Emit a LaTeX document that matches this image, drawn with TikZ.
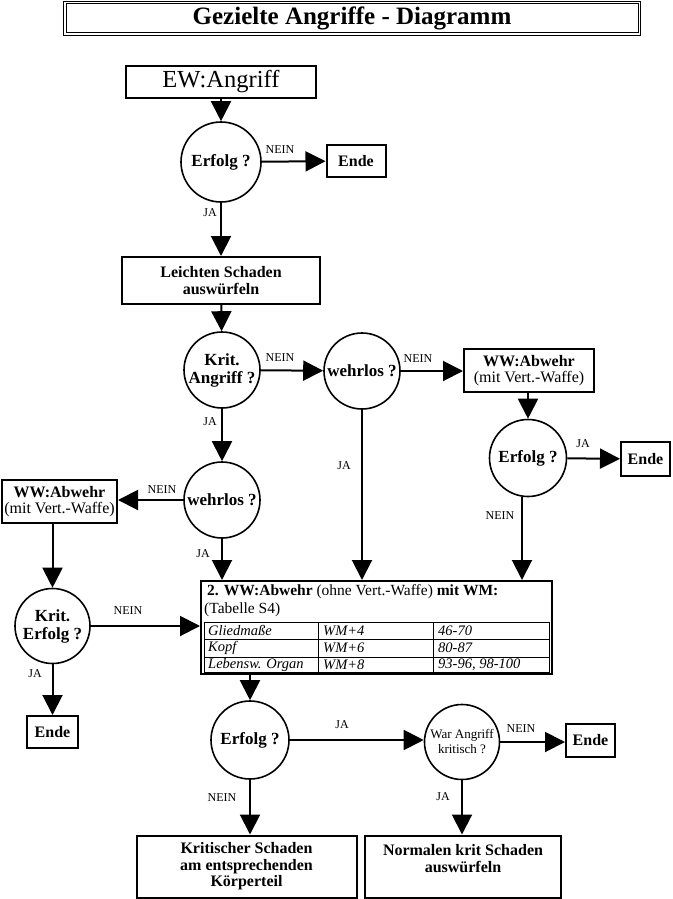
\documentclass[tikz,border=0pt]{standalone}
\usepackage{fontspec}
\setmainfont{Liberation Serif}
\usetikzlibrary{arrows.meta}
\begin{document}
\begin{tikzpicture}[x=1pt,y=-1pt,
  box/.style={draw, line width=2pt, inner sep=0pt, align=center,
    font=\bfseries\fontsize{16}{16.5}\selectfont},
  dec/.style={draw, circle, line width=1.6pt, inner sep=0pt, align=center,
    font=\bfseries\fontsize{17}{18}\selectfont},
  arr/.style={line width=2pt, -{Triangle[length=20pt,width=20pt]}},
  lbl/.style={font=\fontsize{12}{13}\selectfont, inner sep=0pt},
  cell/.style={anchor=west, inner sep=0pt, font=\itshape\fontsize{14.5}{15}\selectfont}]
\useasboundingbox (0,0) rectangle (672,899);

% title
\node[minimum width=576pt, minimum height=33pt, inner sep=0pt,
  font=\bfseries\fontsize{25}{26}\selectfont] (title) at (352,18.5) {Gezielte Angriffe - Diagramm};
\draw[line width=1pt] (title.north west) rectangle (title.south east);
\draw[line width=1pt] ([shift={(2.2pt,-2.2pt)}]title.north west) rectangle ([shift={(-2.2pt,2.2pt)}]title.south east);

% main column
\node[box, minimum width=190pt, minimum height=32pt, font=\fontsize{24.5}{26}\selectfont] (ew) at (221,82) {EW:Angriff};
\node[dec, minimum size=80pt] (erf1) at (221,162) {Erfolg ?};
\node[box, minimum width=59pt, minimum height=32pt] (ende1) at (356,161) {Ende};
\node[box, minimum width=198pt, minimum height=47pt] (leicht) at (221,280.5) {Leichten Schaden\\auswürfeln};
\node[dec, minimum size=76pt] (krit) at (222,370) {Krit.\\Angriff ?};
\node[dec, minimum size=76pt] (wehr1) at (362,371) {wehrlos ?};
\node[box, minimum width=130pt, minimum height=43pt] (wwr) at (529,370.5)
  {WW:Abwehr\\\mdseries(mit Vert.-Waffe)};
\node[dec, minimum size=77pt] (erf2) at (528,458) {Erfolg ?};
\node[box, minimum width=49pt, minimum height=34pt] (ende2) at (645.5,459) {Ende};

\node[dec, minimum size=76pt] (wehr2) at (222,500) {wehrlos ?};
\node[box, minimum width=115pt, minimum height=43pt] (wwl) at (59.5,501.5)
  {WW:Abwehr\\\mdseries(mit Vert.-Waffe)};
\node[dec, minimum size=75pt] (kerf) at (52.5,626) {Krit.\\Erfolg ?};
\node[box, minimum width=51pt, minimum height=32pt] (ende3) at (52.5,732) {Ende};

% table
\node[draw, line width=2pt, minimum width=351pt, minimum height=93pt, inner sep=0pt] (tab) at (376.5,627.5) {};
\draw[line width=0.8pt] (204,622) rectangle (549,672);
\draw[line width=0.8pt] (204,639) -- (549,639) (204,657) -- (549,657)
  (318,622) -- (318,672) (433,622) -- (433,672);
\node[anchor=west, inner sep=0pt, font=\fontsize{15.5}{16}\selectfont] (hdr) at (207,592)
  {\textbf{2. WW:Abwehr} (ohne Vert.-Waffe) \textbf{mit WM:}};
\node[anchor=west, inner sep=0pt, font=\fontsize{15.5}{16}\selectfont] (tabs) at (204,610) {(Tabelle S4)};
\node[cell] (c11) at (208,630.5) {Gliedmaße};
\node[cell] (c12) at (323,630.5) {WM+4};
\node[cell] (c13) at (438,630.5) {46-70};
\node[cell] (c21) at (208,648) {Kopf};
\node[cell] (c22) at (323,648) {WM+6};
\node[cell] (c23) at (438,648) {80-87};
\node[cell] (c31) at (208,665) {Lebensw. Organ};
\node[cell] (c32) at (323,665) {WM+8};
\node[cell] (c33) at (438,665) {93-96, 98-100};

% bottom part
\node[dec, minimum size=78pt] (erf3) at (250,740) {Erfolg ?};
\node[dec, minimum size=75pt, font=\fontsize{13}{15}\selectfont] (war) at (462,742) {War Angriff\\kritisch ?};
\node[box, minimum width=49pt, minimum height=33pt] (ende4) at (590.5,740) {Ende};
\node[box, minimum width=220pt, minimum height=62pt] (kschad) at (246.5,866.5)
  {Kritischer Schaden\\am entsprechenden\\Körperteil};
\node[box, minimum width=196pt, minimum height=62pt] (nschad) at (463,866.5)
  {Normalen krit Schaden\\auswürfeln\\\mbox{}};

% connectors
\draw[arr] (ew) -- (erf1);
\draw[arr] (erf1) -- (ende1);
\node[lbl] (l1) at (280,150) {NEIN};
\draw[arr] (erf1) -- (leicht);
\node[lbl] (l2) at (210,213) {JA};
\draw[arr] (leicht) -- (krit);
\draw[arr] (krit) -- (wehr1);
\node[lbl] (l3) at (280,358) {NEIN};
\draw[arr] (wehr1.east) -- (wehr1.east -| wwr.west);
\node[lbl] (l4) at (418,359) {NEIN};
\draw[arr] (wwr.south -| erf2.north) -- (erf2.north);
\draw[arr] (erf2) -- (ende2);
\node[lbl] (l5) at (583,444) {JA};
\coordinate (e2b) at ([xshift=-6pt]erf2.south);
\draw[arr] (e2b) -- (e2b |- tab.north);
\node[lbl] (l6) at (500,516) {NEIN};
\draw[arr] (wehr1.south) -- (wehr1.south |- tab.north);
\node[lbl] (l7) at (344,466) {JA};
\draw[arr] (krit) -- (wehr2);
\node[lbl] (l8) at (210,422) {JA};
\draw[arr] (wehr2.west) -- (wehr2.west -| wwl.east);
\node[lbl] (l9) at (162,490) {NEIN};
\draw[arr] (wwl.south -| kerf.north) -- (kerf.north);
\draw[arr] (kerf.east) -- (kerf.east -| tab.west);
\node[lbl] (l10) at (128,611) {NEIN};
\draw[arr] (kerf) -- (ende3);
\node[lbl] (l11) at (35,674) {JA};
\draw[arr] (wehr2.south) -- (wehr2.south |- tab.north);
\node[lbl] (l12) at (203,554) {JA};
\draw[arr] (tab.south -| erf3.north) -- (erf3.north);
\draw[arr] (erf3.east) -- (erf3.east -| war.west);
\node[lbl] (l13) at (342,725) {JA};
\draw[arr] (war.east) -- (war.east -| ende4.west);
\node[lbl] (l14) at (521,729) {NEIN};
\draw[arr] (war.south) -- (war.south |- nschad.north);
\node[lbl] (l15) at (443,797) {JA};
\draw[arr] (erf3.south) -- (erf3.south |- kschad.north);
\node[lbl] (l16) at (222,798) {NEIN};
\end{tikzpicture}
\end{document}
